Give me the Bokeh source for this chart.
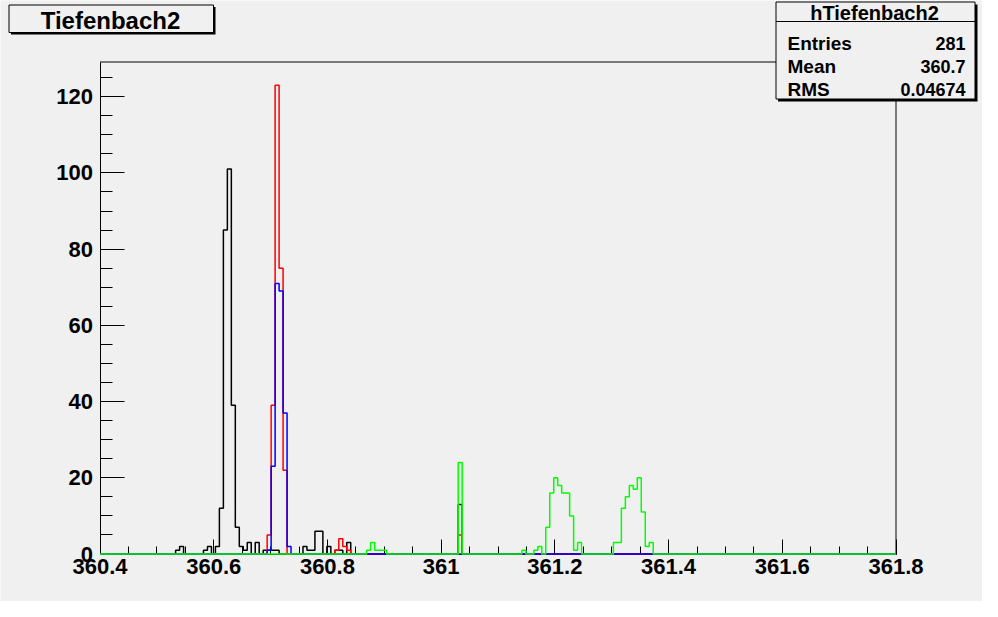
import numpy as np
from bokeh.plotting import figure
from bokeh.models import Range1d, FixedTicker, NumeralTickFormatter, Label, BoxAnnotation
from bokeh.embed import file_html
from bokeh.resources import INLINE

# ---------------- data ----------------
x_min, x_max, n_bins = 360.4, 361.8, 200
y_max = 129.1

black_bins = [19, 20, 26, 27, 29, 30, 31, 32, 33, 34, 35, 36, 37, 39, 41, 42, 43, 44,
              51, 52, 53, 54, 55, 57, 59, 60, 62, 90]
black_counts = [1, 2, 1, 2, 2, 12, 85, 101, 39, 7, 2, 1, 3, 3, 1, 1, 1, 1,
                2, 1, 1, 6, 6, 2, 1, 1, 3, 13]

red_bins = [42, 43, 44, 45, 46, 59, 60, 61, 62, 90]
red_counts = [5, 39, 123, 75, 22, 1, 4, 2, 1, 5]

blue_bins = [42, 43, 44, 45, 46, 47]
blue_counts = [1, 23, 71, 69, 37, 2]

green_bins = [67, 68, 69, 70, 71, 90, 106, 109, 110, 112, 113, 114, 115, 116, 117, 118,
              119, 120, 129, 130, 131, 132, 133, 134, 135, 136, 137, 138]
green_counts = [1, 3, 1, 1, 1, 24, 1, 1, 2, 7, 16, 20, 18, 16, 16, 10,
                1, 3, 3, 3, 12, 15, 18, 17, 20, 11, 2, 3]

x_tick_labels = ["360.4", "360.6", "360.8", "361", "361.2", "361.4", "361.6", "361.8"]
y_tick_labels = ["0", "20", "40", "60", "80", "100", "120"]

title_text = "Tiefenbach2"
stats_name = "hTiefenbach2"
stats_keys = ["Entries", "Mean", "RMS"]
stats_vals = ["281", "360.7", "0.04674"]

# ---------------- layout (pixels) ----------------
W, H = 982, 601
BG = "#f0f0f0"
FONT = "Liberation Sans"
PX_LEFT, PX_RIGHT, PX_TOP, PX_BOTTOM = 99.5, 895.5, 61.5, 553.5   # histogram pad on canvas

kx = (PX_RIGHT - PX_LEFT) / (x_max - x_min)
ky = (PX_BOTTOM - PX_TOP) / y_max
xr = Range1d(x_min - PX_LEFT / kx, x_max + (W - PX_RIGHT) / kx)
yr = Range1d(-(H - PX_BOTTOM) / ky, y_max + PX_TOP / ky)

p = figure(width=W, height=H, output_backend="svg", toolbar_location=None,
           x_range=xr, y_range=yr,
           min_border=0, min_border_left=0, min_border_right=0,
           min_border_top=0, min_border_bottom=0,
           background_fill_color=BG, border_fill_color=BG)
p.xgrid.visible = False
p.ygrid.visible = False
p.outline_line_color = None

x_major = [float(s) for s in x_tick_labels]
x_minor = [round(x_min + 0.05 * i, 2) for i in range(int(round((x_max - x_min) / 0.05)) + 1)]
y_major = [float(s) for s in y_tick_labels]
y_minor = [5.0 * i for i in range(26)]

p.xaxis.ticker = FixedTicker(ticks=x_major, minor_ticks=x_minor)
p.xaxis.formatter = NumeralTickFormatter(format="0.[0]")
p.yaxis.ticker = FixedTicker(ticks=y_major, minor_ticks=y_minor)
p.xaxis.fixed_location = 0
p.yaxis.fixed_location = x_min
p.xaxis.bounds = (x_min, x_max)
p.yaxis.bounds = (0, y_max)

for ax, maj, mnr, stand in ((p.xaxis, 15, 8, 5), (p.yaxis, 24, 12, 7)):
    ax.major_tick_in = maj
    ax.major_tick_out = 0
    ax.minor_tick_in = mnr
    ax.minor_tick_out = 0
    ax.axis_line_color = "black"
    ax.major_tick_line_color = "black"
    ax.minor_tick_line_color = "black"
    ax.major_label_text_font = FONT
    ax.major_label_text_font_style = "bold"
    ax.major_label_text_font_size = "22px"
    ax.major_label_text_color = "black"
    ax.major_label_standoff = stand

# top and right edges of the histogram pad frame
p.multi_line(xs=[[x_min, x_max], [x_max, x_max]], ys=[[y_max, y_max], [0, y_max]],
             line_color="black", line_width=1)

edges = np.linspace(x_min, x_max, n_bins + 1)


def hist_path(bins, counts):
    vals = np.zeros(n_bins)
    vals[np.array(bins)] = counts
    xs = np.repeat(edges, 2)
    ys = np.concatenate([[0.0], np.repeat(vals, 2), [0.0]])
    return xs, ys


for bins, counts, col in ((black_bins, black_counts, "#000000"),
                          (red_bins, red_counts, "#ff0000"),
                          (blue_bins, blue_counts, "#0000ff"),
                          (green_bins, green_counts, "#00ff00")):
    xs, ys = hist_path(bins, counts)
    r = p.line(xs, ys, line_color=col, line_width=1.5)
    r.level = "overlay"


# ---------------- boxes ----------------
def cbox(l, t, r, b, fill, line=None):
    return BoxAnnotation(left=l, right=r, top=t, bottom=b,
                         left_units="canvas", right_units="canvas",
                         top_units="canvas", bottom_units="canvas",
                         fill_color=fill, fill_alpha=1.0,
                         line_color=line if line else fill, line_width=1,
                         line_alpha=1.0 if line else 0.0)


def clabel(x, y, text, size, align):
    return Label(x=x, y=y, x_units="canvas", y_units="canvas", text=text,
                 text_font=FONT, text_font_style="bold", text_font_size=size,
                 text_align=align, text_baseline="middle", text_color="black")


# title pave
p.add_layout(cbox(10.5, 6.5, 215, 34, "black"))
p.add_layout(cbox(8.5, 4.5, 213, 32, BG, "black"))
p.add_layout(clabel(110, 19.5, title_text, "24px", "center"))

# stats pave
p.add_layout(cbox(777.5, 4, 977, 101, "black"))
p.add_layout(cbox(775.5, 1.5, 974.5, 98.5, BG, "black"))
p.add_layout(cbox(775.5, 20.5, 974.5, 21.5, "black"))
p.add_layout(clabel(874, 12, stats_name, "20px", "center"))
row_y = [42.5, 66, 89]
for k, v, yy in zip(stats_keys, stats_vals, row_y):
    p.add_layout(clabel(787, yy, k, "19px", "left"))
    p.add_layout(clabel(965, yy, v, "18px", "right"))

open("out.html", "w").write(file_html(p, INLINE))
